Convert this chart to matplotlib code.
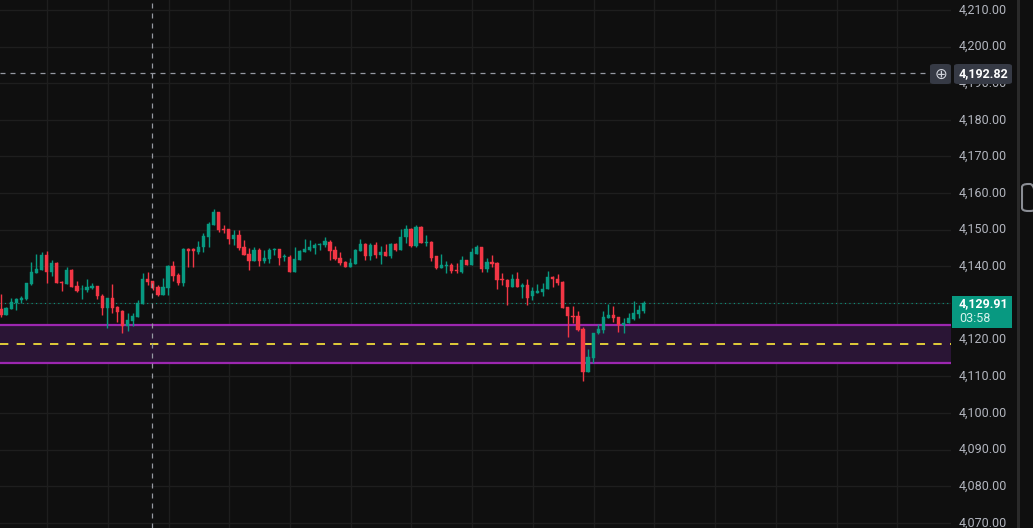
import matplotlib
matplotlib.use("Agg")
import matplotlib.pyplot as plt
from matplotlib.patches import Rectangle, FancyBboxPatch
from matplotlib.transforms import blended_transform_factory
import numpy as np

plt.rcParams["font.family"] = ["Roboto", "DejaVu Sans"]

# OHLC values (one entry per candle, left to right)
opens = [4128.4, 4126.7, 4128.4, 4130.1, 4130.7, 4131.1, 4135.2, 4138.3, 4139.0, 4143.1,
         4138.6, 4141.0, 4135.8, 4135.3, 4139.0, 4134.7, 4133.7, 4133.6, 4134.0, 4134.7,
         4131.9, 4128.7, 4131.5, 4129.0, 4127.8, 4123.8, 4125.2, 4126.3, 4129.8, 4136.6,
         4136.0, 4134.3, 4132.2, 4134.2, 4140.1, 4137.7, 4135.6, 4144.7, 4144.7, 4143.9,
         4145.2, 4148.1, 4151.3, 4154.8, 4150.1, 4150.1, 4147.6, 4148.6, 4145.4, 4143.4,
         4141.5, 4144.5, 4141.5, 4142.0, 4144.5, 4144.7, 4142.5, 4142.5, 4138.6, 4141.8,
         4144.0, 4144.5, 4145.1, 4145.7, 4145.7, 4146.7, 4144.5, 4142.2, 4141.3, 4139.9,
         4140.7, 4144.3, 4146.1, 4142.9, 4145.9, 4143.1, 4143.8, 4142.7, 4146.1, 4144.5,
         4147.9, 4150.2, 4145.6, 4150.7, 4146.5, 4146.7, 4142.7, 4139.6, 4140.2, 4140.5,
         4139.0, 4138.6, 4141.8, 4140.4, 4143.4, 4145.4, 4139.3, 4141.3, 4141.0, 4136.6,
         4136.3, 4134.3, 4136.6, 4134.5, 4134.9, 4131.8, 4132.8, 4133.1, 4133.7, 4137.2,
         4136.6, 4135.8, 4128.9, 4126.5, 4126.5, 4122.9, 4111.3, 4115.1, 4121.7, 4122.6,
         4126.0, 4126.7, 4126.3, 4124.0, 4124.5, 4125.6, 4127.0, 4127.9]
highs = [4132.5, 4129.0, 4131.3, 4131.5, 4131.8, 4135.4, 4141.2, 4143.4, 4144.0, 4144.2,
         4141.8, 4141.3, 4136.1, 4139.9, 4139.2, 4136.0, 4134.9, 4136.6, 4135.5, 4134.7,
         4132.4, 4131.5, 4135.2, 4129.2, 4128.1, 4127.2, 4127.2, 4130.8, 4138.3, 4138.5,
         4136.0, 4134.9, 4136.8, 4140.4, 4141.5, 4138.3, 4144.9, 4144.9, 4145.1, 4146.9,
         4149.0, 4152.2, 4155.6, 4154.9, 4151.3, 4150.1, 4149.9, 4149.9, 4147.2, 4144.9,
         4145.2, 4144.9, 4144.5, 4145.1, 4144.9, 4144.7, 4143.4, 4143.1, 4145.4, 4144.5,
         4147.5, 4147.2, 4146.5, 4146.3, 4147.9, 4147.2, 4145.6, 4143.9, 4141.5, 4142.2,
         4144.7, 4147.4, 4146.5, 4146.5, 4146.6, 4145.6, 4146.1, 4146.5, 4146.3, 4150.2,
         4151.3, 4150.4, 4151.3, 4150.9, 4148.6, 4146.9, 4142.9, 4143.4, 4141.6, 4140.9,
         4140.9, 4142.7, 4141.8, 4145.1, 4145.7, 4145.4, 4142.2, 4143.1, 4141.3, 4138.1,
         4136.5, 4137.9, 4138.6, 4135.6, 4136.6, 4134.3, 4135.2, 4135.4, 4138.8, 4137.4,
         4137.8, 4136.1, 4128.9, 4129.3, 4127.7, 4123.4, 4117.5, 4121.8, 4124.2, 4127.7,
         4129.8, 4129.3, 4126.3, 4125.8, 4127.2, 4130.6, 4129.5, 4130.6]
lows = [4126.3, 4126.7, 4128.4, 4128.1, 4129.9, 4130.7, 4135.0, 4138.3, 4139.0, 4135.6,
        4137.4, 4135.6, 4133.4, 4135.3, 4134.5, 4133.1, 4131.2, 4133.1, 4133.7, 4131.2,
        4126.7, 4123.3, 4127.4, 4124.9, 4121.9, 4122.5, 4123.8, 4126.3, 4129.8, 4134.9,
        4133.6, 4131.9, 4132.2, 4132.2, 4136.1, 4134.9, 4134.7, 4139.9, 4139.9, 4143.4,
        4144.0, 4145.4, 4151.3, 4149.3, 4149.2, 4146.1, 4145.9, 4144.5, 4143.1, 4138.9,
        4141.5, 4140.1, 4140.8, 4140.8, 4143.1, 4140.4, 4141.5, 4138.6, 4138.6, 4141.8,
        4144.0, 4144.3, 4143.4, 4144.5, 4145.4, 4141.8, 4141.8, 4140.4, 4139.7, 4139.9,
        4140.7, 4144.3, 4141.8, 4141.8, 4142.2, 4140.7, 4142.7, 4142.2, 4144.3, 4144.5,
        4146.5, 4145.4, 4145.4, 4146.5, 4145.6, 4141.6, 4139.3, 4139.6, 4138.1, 4138.1,
        4138.1, 4138.3, 4140.4, 4140.4, 4143.4, 4138.6, 4138.6, 4139.8, 4133.8, 4134.9,
        4129.5, 4134.3, 4134.5, 4131.5, 4129.5, 4130.8, 4132.8, 4131.9, 4133.7, 4134.3,
        4134.8, 4128.7, 4120.6, 4124.6, 4122.5, 4108.8, 4111.3, 4113.6, 4121.6, 4121.7,
        4126.0, 4124.9, 4122.2, 4121.7, 4124.5, 4125.4, 4126.0, 4127.4]
closes = [4126.7, 4128.7, 4130.3, 4131.0, 4131.5, 4135.4, 4138.5, 4139.3, 4143.1, 4138.6,
          4141.0, 4135.6, 4135.4, 4139.0, 4134.5, 4133.3, 4133.9, 4134.3, 4134.7, 4131.8,
          4128.7, 4131.5, 4128.7, 4127.6, 4123.8, 4125.4, 4126.5, 4130.1, 4136.6, 4135.8,
          4134.2, 4132.2, 4134.3, 4140.1, 4137.5, 4135.6, 4144.7, 4144.3, 4144.3, 4145.2,
          4148.3, 4151.6, 4154.9, 4149.9, 4149.8, 4147.6, 4148.7, 4145.1, 4143.1, 4141.5,
          4144.5, 4141.5, 4142.4, 4144.5, 4144.8, 4142.4, 4142.7, 4138.6, 4142.0, 4144.3,
          4144.8, 4145.4, 4145.9, 4146.0, 4146.8, 4144.3, 4142.0, 4141.0, 4139.9, 4140.9,
          4144.5, 4146.1, 4142.9, 4145.9, 4143.1, 4143.8, 4142.7, 4146.1, 4144.5, 4147.9,
          4150.2, 4145.6, 4150.7, 4146.5, 4146.7, 4142.4, 4139.6, 4140.4, 4140.5, 4138.8,
          4138.8, 4141.8, 4140.4, 4143.8, 4145.4, 4139.3, 4141.3, 4140.7, 4136.3, 4136.4,
          4134.5, 4136.6, 4134.5, 4134.9, 4131.5, 4133.3, 4133.3, 4133.8, 4137.2, 4136.6,
          4135.6, 4128.7, 4126.5, 4126.3, 4122.6, 4111.3, 4115.4, 4121.8, 4122.9, 4126.3,
          4126.7, 4126.0, 4124.0, 4124.6, 4126.0, 4127.4, 4128.1, 4129.91]

zone_top = 4124.0
zone_bottom = 4113.7
zone_mid = 4118.8
last_price = 4129.91
countdown = "03:58"
crosshair_price = 4192.82
crosshair_bar = 29.8
price_ticks = list(range(4070, 4211, 10))

BG = "#0f0f0f"
UP = "#089981"
DOWN = "#f23645"
GRID = "#1e1e1e"
TEXT = "#b2b5be"

W, H = 1033, 528
fig = plt.figure(figsize=(W / 100, H / 100), dpi=100, facecolor=BG)
ax = fig.add_axes([0, 0, 951 / W, 1])
ax.set_facecolor(BG)
ax.set_xlim(-0.2, 187.7)
ax.set_ylim(4068.6, 4212.7)
for s in ax.spines.values():
    s.set_visible(False)
ax.set_xticks([])
ax.set_yticks([])

# grid
for p in price_ticks:
    ax.axhline(p, color=GRID, lw=1, zorder=0)
for gx in np.arange(9.1, 188, 12):
    ax.axvline(gx, color=GRID, lw=1, zorder=0)

# zone
ax.axhspan(zone_bottom, zone_top, color="#2a1535", zorder=1, lw=0)
ax.axhline(zone_top, color="#9c27b0", lw=1.6, zorder=2)
ax.axhline(zone_bottom, color="#9c27b0", lw=1.6, zorder=2)
ax.axhline(zone_mid, color="#ffeb3b", lw=1.2, ls=(0, (5, 5)), zorder=2)

# last price dotted line
ax.axhline(last_price, color=UP, lw=0.8, ls=(0, (1, 3)), zorder=2)

# candles
for i, (o, h, l, c) in enumerate(zip(opens, highs, lows, closes)):
    col = UP if c >= o else DOWN
    ax.vlines(i, l, h, color=col, lw=1, zorder=3)
    lo, hi = min(o, c), max(o, c)
    ax.add_patch(Rectangle((i - 0.32, lo), 0.64, max(hi - lo, 0.15),
                           facecolor=col, edgecolor=col, lw=0.3, zorder=4))

# crosshair
ax.axvline(crosshair_bar, color="#9598a1", lw=0.9, ls=(0, (4, 4)), zorder=5)
ax.axhline(crosshair_price, color="#9598a1", lw=0.9, ls=(0, (4, 4)), zorder=5)

# price scale labels
tr = blended_transform_factory(ax.transAxes, ax.transData)
for p in price_ticks:
    ax.text(1.008, p, f"{p:,.2f}", transform=tr, color=TEXT, fontsize=9,
            va="center", ha="left", clip_on=False, zorder=6)

# crosshair price box
fig.patches.append(FancyBboxPatch((954 / W, (H - 84) / H), 58 / W, 20 / H,
                                  boxstyle="round,pad=0,rounding_size=0.004",
                                  transform=fig.transFigure, facecolor="#363a45",
                                  edgecolor="none", zorder=7))
fig.patches.append(FancyBboxPatch((930 / W, (H - 84) / H), 21 / W, 20 / H,
                                  boxstyle="round,pad=0,rounding_size=0.004",
                                  transform=fig.transFigure, facecolor="#363a45",
                                  edgecolor="none", zorder=7))
fig.text(983 / W, (H - 74) / H, f"{crosshair_price:,.2f}", color="white",
         fontsize=9, fontweight="bold", ha="center", va="center", zorder=8)
fig.text(940.5 / W, (H - 74) / H, "⊕", color="#d1d4dc", fontsize=11,
         family="DejaVu Sans", ha="center", va="center", zorder=8)

# last price box
fig.patches.append(Rectangle((952 / W, (H - 328) / H), 60 / W, 32 / H,
                             transform=fig.transFigure, facecolor=UP,
                             edgecolor="none", zorder=7))
fig.text(983 / W, (H - 304) / H, f"{last_price:,.2f}", color="white",
         fontsize=9, fontweight="bold", ha="center", va="center", zorder=8)
fig.text(959 / W, (H - 319) / H, countdown, color="#d6f2ec",
         fontsize=9, ha="left", va="center", zorder=8)

# right side panel divider
fig.patches.append(Rectangle((1017 / W, 0), 3 / W, 1, transform=fig.transFigure,
                             facecolor="#2a2a2a", edgecolor="none", zorder=6))
fig.patches.append(FancyBboxPatch((1022 / W, (H - 211) / H), 14 / W, 27 / H,
                                  boxstyle="round,pad=0,rounding_size=0.006",
                                  transform=fig.transFigure, facecolor="none",
                                  edgecolor="#8a8d94", lw=1.5, zorder=7))

fig.savefig("out.png", dpi=100, facecolor=BG)
